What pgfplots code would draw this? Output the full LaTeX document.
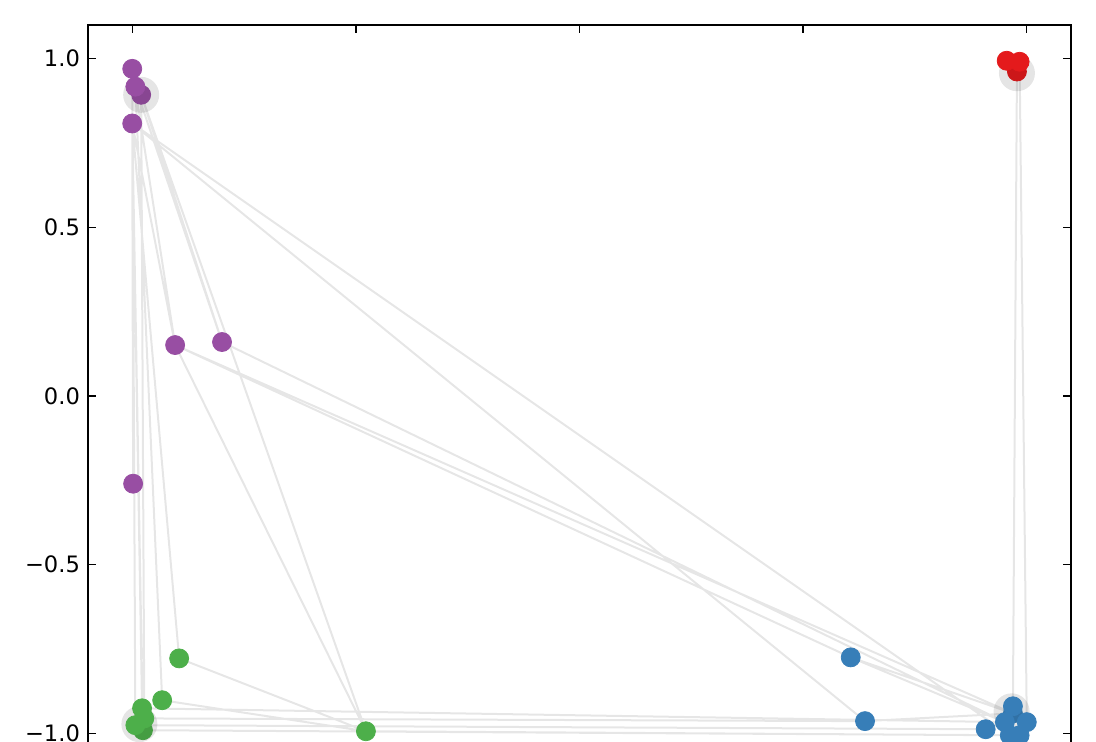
\documentclass[border=0pt]{standalone}
\usepackage{pgfplots}
\pgfplotsset{compat=1.18}
\usepackage{fontspec}
\setmainfont{DejaVu Sans}
\definecolor{cpurple}{HTML}{984EA3}
\definecolor{cred}{HTML}{E41A1C}
\definecolor{cgreen}{HTML}{4DAF4A}
\definecolor{cblue}{HTML}{377EB8}
\definecolor{edgegray}{HTML}{E6E6E6}

\begin{document}
\begin{tikzpicture}
% the reference is cut off just below y = -1
\clip (-44pt,12.5pt) rectangle (504pt,383.5pt);
\begin{pgfinterruptboundingbox}
\begin{axis}[
    at={(0,0)}, anchor=south west,
    scale only axis,
    width=491.5pt, height=371pt,
    xmin=-1.1, xmax=1.1,
    ymin=-1.1, ymax=1.1,
    xtick={-1,-0.5,0,0.5,1},
    ytick={-1,-0.5,0,0.5,1},
    xticklabels={},
    yticklabels={−1.0,−0.5,0.0,0.5,1.0},
    tick align=inside,
    major tick length=4pt,
    every tick/.style={black, line width=0.6pt},
    axis line style={line width=1pt},
    tick label style={font=\fontsize{11.3}{13}\selectfont},
    yticklabel style={xshift=-0.5pt},
    unbounded coords=jump,
    nodes={node/.style={}},
]
% edges
\addplot[edgegray, line width=1pt] coordinates {
(-0.981,0.893) (-0.800,0.160) (nan,nan)
(-0.994,0.917) (-0.800,0.160) (nan,nan)
(-1.001,0.808) (-0.905,0.151) (nan,nan)
(-1.001,0.970) (-0.905,0.151) (nan,nan)
(-0.981,0.893) (-0.478,-0.994) (nan,nan)
(-0.905,0.151) (-0.478,-0.994) (nan,nan)
(-1.001,0.808) (-0.999,-0.260) (nan,nan)
(-1.001,0.808) (-0.896,-0.778) (nan,nan)
(-0.994,0.917) (-0.934,-0.902) (nan,nan)
(-1.001,0.808) (-0.979,-0.926) (nan,nan)
(-0.981,0.893) (-0.974,-0.956) (nan,nan)
(-1.001,0.970) (-0.994,-0.976) (nan,nan)
(-1.001,0.808) (-0.977,-0.991) (nan,nan)
(-1.001,0.808) (0.639,-0.964) (nan,nan)
(-1.001,0.808) (0.963,-1.006) (nan,nan)
(-0.905,0.151) (0.607,-0.775) (nan,nan)
(-0.905,0.151) (0.970,-0.941) (nan,nan)
(-0.800,0.160) (0.952,-0.967) (nan,nan)
(0.607,-0.775) (0.970,-0.941) (nan,nan)
(0.607,-0.775) (0.952,-0.967) (nan,nan)
(0.639,-0.964) (0.970,-0.941) (nan,nan)
(-0.896,-0.778) (-0.478,-0.994) (nan,nan)
(-0.934,-0.902) (-0.478,-0.994) (nan,nan)
(-0.979,-0.926) (0.952,-0.967) (nan,nan)
(-0.974,-0.956) (0.639,-0.964) (nan,nan)
(-0.994,-0.976) (0.909,-0.988) (nan,nan)
(-0.478,-0.994) (0.963,-1.006) (nan,nan)
(-0.977,-0.991) (0.985,-1.006) (nan,nan)
(0.979,0.962) (0.970,-0.920) (nan,nan)
(0.985,0.991) (1.001,-0.967)
};
% cluster centres, drawn under the halos
\addplot[only marks, mark=*, mark size=4.75pt, cpurple] coordinates {(-0.981,0.893)};
\addplot[only marks, mark=*, mark size=4.75pt, cred] coordinates {(0.979,0.962)};
\addplot[only marks, mark=*, mark size=4.75pt, cgreen] coordinates {(-0.977,-0.991)};
\addplot[only marks, mark=*, mark size=4.75pt, cblue] coordinates {(0.970,-0.941)};
% halos
\addplot[only marks, mark=*, mark size=9pt, black, fill opacity=0.1, draw opacity=0] coordinates {
(-0.981,0.893) (0.979,0.957) (-0.985,-0.973) (0.967,-0.935)
};
% other nodes
\addplot[only marks, mark=*, mark size=4.75pt, cpurple] coordinates {
(-1.001,0.970) (-0.994,0.917) (-1.001,0.808) (-0.905,0.151) (-0.800,0.160) (-0.999,-0.260)
};
\addplot[only marks, mark=*, mark size=4.75pt, cred] coordinates {
(0.956,0.994) (0.985,0.991)
};
\addplot[only marks, mark=*, mark size=4.75pt, cgreen] coordinates {
(-0.896,-0.778) (-0.934,-0.902) (-0.979,-0.926) (-0.974,-0.956) (-0.994,-0.976) (-0.478,-0.994)
};
\addplot[only marks, mark=*, mark size=4.75pt, cblue] coordinates {
(0.607,-0.775) (0.639,-0.964) (0.909,-0.988) (0.970,-0.920) (0.952,-0.967) (1.001,-0.967) (0.963,-1.006) (0.985,-1.006)
};
\end{axis}
\end{pgfinterruptboundingbox}
\end{tikzpicture}
\end{document}
